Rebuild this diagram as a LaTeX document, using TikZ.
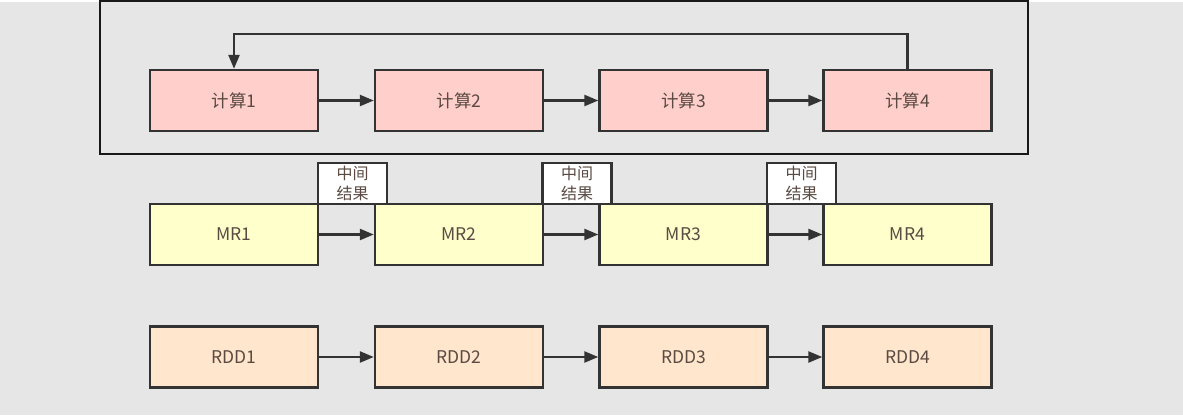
\documentclass[tikz,border=0pt]{standalone}
\usepackage{fontspec}
\setmainfont{Noto Sans CJK SC}
\usetikzlibrary{arrows.meta,positioning}
\definecolor{bggray}{HTML}{E6E6E6}
\definecolor{linec}{HTML}{333333}
\definecolor{txtc}{HTML}{5A4A42}
\definecolor{pinkf}{HTML}{FFCFCC}
\definecolor{yellowf}{HTML}{FFFFCC}
\definecolor{orangef}{HTML}{FFE6CC}
\tikzset{
  box/.style={draw=linec, line width=2.4pt, minimum width=168pt, minimum height=61pt, inner sep=0pt, text=txtc, font=\fontsize{17.5}{20}\selectfont},
  calc/.style={box, fill=pinkf},
  mr/.style={box, fill=yellowf},
  rdd/.style={box, fill=orangef},
  mid/.style={draw=linec, line width=2.4pt, fill=white, minimum width=69pt, minimum height=41pt, inner sep=0pt, text=txtc, font=\fontsize{16}{20.5}\selectfont, align=center},
  conn/.style={draw=linec, line width=2.4pt, -{Triangle[length=14pt,width=11pt]}},
  frame/.style={draw=black!90, line width=2.6pt}
}
\begin{document}
\begin{tikzpicture}[x=1pt,y=-1pt]
\useasboundingbox (0,0) rectangle (1183,420);
\fill[white] (0,0) rectangle (1183,420);
\fill[bggray] (0,2) rectangle (1183,415);
% outer frame
\draw[frame] (100,1) rectangle (1028,154);
% compute row
\node[calc] (c1) at (234,100.5) {计算1};
\node[calc] (c2) at (459,100.5) {计算2};
\node[calc] (c3) at (683.5,100.5) {计算3};
\node[calc] (c4) at (907.5,100.5) {计算4};
% MR row
\node[mr] (m1) at (234,234.5) {MR1};
\node[mr] (m2) at (459,234.5) {MR2};
\node[mr] (m3) at (683.5,234.5) {MR3};
\node[mr] (m4) at (907.5,234.5) {MR4};
% intermediate result boxes
\node[mid] (i1) at (352.5,183.5) {中间\\结果};
\node[mid] (i2) at (577,183.5) {中间\\结果};
\node[mid] (i3) at (801.5,183.5) {中间\\结果};
% RDD row
\node[rdd] (r1) at (234,357) {RDD1};
\node[rdd] (r2) at (459,357) {RDD2};
\node[rdd] (r3) at (683.5,357) {RDD3};
\node[rdd] (r4) at (907.5,357) {RDD4};
% connectors
\foreach \a/\b in {c1/c2,c2/c3,c3/c4,m1/m2,m2/m3,m3/m4,r1/r2,r2/r3,r3/r4}
  \draw[conn] (\a.east) -- (\b.west);
\coordinate (fb1) at (907.5,34);
\coordinate (fb2) at (234,34);
\draw[conn] (c4.north) -- (fb1) -- (fb2) -- (c1.north);
\end{tikzpicture}
\end{document}
